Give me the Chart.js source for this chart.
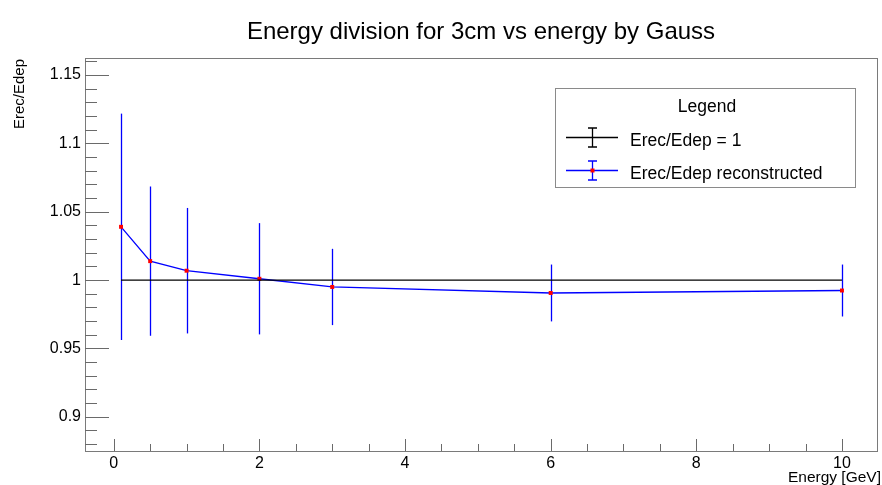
<!DOCTYPE html>
<html>
<head>
<meta charset="utf-8">
<script src="https://cdn.jsdelivr.net/npm/chart.js@4/dist/chart.umd.min.js"></script>
<style>
  html, body { margin: 0; padding: 0; background: #ffffff; }
  #wrap { width: 882px; height: 485px; }
</style>
</head>
<body>
<div id="wrap"><canvas id="c" width="882" height="485"></canvas></div>
<script>
// Beam energies (GeV)
const energy = [0.1, 0.5, 1, 2, 3, 6, 10];
// Reconstructed Erec/Edep with Gaussian fit and its uncertainty
const ratioReco = [1.039, 1.0139, 1.0069, 1.001, 0.995, 0.9906, 0.9924];
const ratioRecoErr = [0.0828, 0.0546, 0.0459, 0.0407, 0.0279, 0.0208, 0.019];
// Reference line Erec/Edep = 1
const ratioRef = [1, 1, 1, 1, 1, 1, 1];
const ratioRefErr = [0, 0, 0, 0, 0, 0, 0];

const titleText = 'Energy division for 3cm vs energy by Gauss';
const xTitle = 'Energy [GeV]';
const yTitle = 'Erec/Edep';
const legendHeader = 'Legend';
const legendLabels = ['Erec/Edep = 1', 'Erec/Edep reconstructed'];

const FONT = '"Liberation Sans", Arial, Helvetica, sans-serif';

function toPoints(xs, ys, es) {
  return xs.map((x, i) => ({ x: x, y: ys[i], err: es[i] }));
}

// Vertical error bars drawn through the chart scales
const errorBars = {
  id: 'errorBars',
  beforeDatasetsDraw(chart) {
    const ctx = chart.ctx;
    const xs = chart.scales.x, ys = chart.scales.y;
    chart.data.datasets.forEach((ds) => {
      ctx.save();
      ctx.strokeStyle = ds.borderColor;
      ctx.lineWidth = 1.3;
      ds.data.forEach((p) => {
        if (!p.err) return;
        const px = Math.round(xs.getPixelForValue(p.x)) + 0.5;
        ctx.beginPath();
        ctx.moveTo(px, ys.getPixelForValue(p.y - p.err));
        ctx.lineTo(px, ys.getPixelForValue(p.y + p.err));
        ctx.stroke();
      });
      ctx.restore();
    });
  }
};

// Frame, inward tick marks, titles and legend box
const decorations = {
  id: 'decorations',
  afterDraw(chart) {
    const ctx = chart.ctx;
    const a = chart.chartArea;
    const xs = chart.scales.x, ys = chart.scales.y;
    ctx.save();

    // frame
    ctx.strokeStyle = '#7a7a7a';
    ctx.lineWidth = 1;
    ctx.strokeRect(Math.round(a.left) + 0.5, Math.round(a.top) + 0.5,
                   Math.round(a.right - a.left) - 1, Math.round(a.bottom - a.top));

    // y ticks (major + 4 minor per interval)
    const yMaj = ys.ticks.map(t => t.value);
    const yStep = yMaj[1] - yMaj[0];
    const ySub = yStep / 5;
    ctx.strokeStyle = '#6a6a6a';
    for (let v = yMaj[0] - 5 * ySub; v <= ys.max + 1e-9; v += ySub) {
      if (v < ys.min - 1e-9) continue;
      const k = Math.round((v - yMaj[0]) / ySub);
      const major = ((k % 5) + 5) % 5 === 0;
      const py = Math.round(ys.getPixelForValue(v)) + 0.5;
      ctx.beginPath();
      ctx.moveTo(a.left, py);
      ctx.lineTo(a.left + (major ? 24 : 12), py);
      ctx.stroke();
    }

    // x ticks (major + 3 minor per interval)
    const xMaj = xs.ticks.map(t => t.value);
    const xStep = xMaj[1] - xMaj[0];
    const xSub = xStep / 4;
    for (let v = xMaj[0] - 4 * xSub; v <= xs.max + 1e-9; v += xSub) {
      if (v < xs.min - 1e-9) continue;
      const k = Math.round((v - xMaj[0]) / xSub);
      const major = ((k % 4) + 4) % 4 === 0;
      const px = Math.round(xs.getPixelForValue(v)) + 0.5;
      ctx.beginPath();
      ctx.moveTo(px, a.bottom);
      ctx.lineTo(px, a.bottom - (major ? 12 : 7));
      ctx.stroke();
    }

    // main title
    ctx.fillStyle = '#000000';
    ctx.font = '24px ' + FONT;
    ctx.textAlign = 'center';
    ctx.textBaseline = 'alphabetic';
    ctx.fillText(titleText, 481, 39);

    // x axis title
    ctx.font = '15.5px ' + FONT;
    ctx.textAlign = 'right';
    ctx.fillText(xTitle, 881, 482);

    // y axis title (rotated)
    ctx.save();
    ctx.translate(24, 59);
    ctx.rotate(-Math.PI / 2);
    ctx.font = '15px ' + FONT;
    ctx.textAlign = 'right';
    ctx.fillText(yTitle, 0, 0);
    ctx.restore();

    // legend box
    const L = { left: 555, top: 88, right: 855, bottom: 187 };
    ctx.fillStyle = '#ffffff';
    ctx.fillRect(L.left, L.top, L.right - L.left, L.bottom - L.top);
    ctx.strokeStyle = '#8a8a8a';
    ctx.strokeRect(L.left + 0.5, L.top + 0.5, L.right - L.left, L.bottom - L.top);

    ctx.fillStyle = '#000000';
    ctx.font = '17.5px ' + FONT;
    ctx.textAlign = 'center';
    ctx.fillText(legendHeader, 707, 112);

    const rows = [137.5, 170.5];
    const sx0 = 566, sx1 = 618, sxc = 592.5;
    chart.data.datasets.forEach((ds, i) => {
      const yy = rows[i];
      ctx.strokeStyle = ds.borderColor;
      ctx.lineWidth = 1.3;
      ctx.beginPath();
      ctx.moveTo(sx0, yy); ctx.lineTo(sx1, yy);
      ctx.moveTo(sxc, yy - 9.5); ctx.lineTo(sxc, yy + 9.5);
      ctx.moveTo(sxc - 4.5, yy - 9.5); ctx.lineTo(sxc + 4.5, yy - 9.5);
      ctx.moveTo(sxc - 4.5, yy + 9.5); ctx.lineTo(sxc + 4.5, yy + 9.5);
      ctx.stroke();
      if (ds.pointRadius > 0) {
        ctx.fillStyle = ds.pointBackgroundColor;
        ctx.fillRect(sxc - 2, yy - 2, 4, 4);
      }
      ctx.fillStyle = '#000000';
      ctx.font = '17.5px ' + FONT;
      ctx.textAlign = 'left';
      ctx.fillText(legendLabels[i], 630, yy + 8);
    });

    ctx.restore();
  }
};

new Chart(document.getElementById('c'), {
  type: 'scatter',
  data: {
    datasets: [
      {
        label: legendLabels[0],
        data: toPoints(energy, ratioRef, ratioRefErr),
        showLine: true,
        borderColor: '#000000',
        borderWidth: 1.3,
        pointRadius: 0,
        pointHoverRadius: 0,
        tension: 0
      },
      {
        label: legendLabels[1],
        data: toPoints(energy, ratioReco, ratioRecoErr),
        showLine: true,
        borderColor: '#0000ff',
        borderWidth: 1.3,
        pointStyle: 'rect',
        pointRadius: 2.8,
        pointBorderWidth: 0,
        pointBackgroundColor: '#ff0000',
        pointBorderColor: '#ff0000',
        tension: 0
      }
    ]
  },
  options: {
    responsive: false,
    animation: false,
    devicePixelRatio: 1,
    layout: { padding: { top: 58, left: 0, right: 2, bottom: 0 } },
    plugins: {
      legend: { display: false },
      title: { display: false },
      tooltip: { enabled: false }
    },
    scales: {
      x: {
        type: 'linear',
        min: -0.395,
        max: 10.495,
        grid: { display: false, drawTicks: false },
        border: { display: false },
        ticks: {
          stepSize: 2,
          includeBounds: false,
          padding: 3,
          color: '#000000',
          font: { family: FONT, size: 16 },
          maxRotation: 0
        },
        afterFit(scale) { scale.height = 34; }
      },
      y: {
        type: 'linear',
        min: 0.875,
        max: 1.1625,
        grid: { display: false, drawTicks: false },
        border: { display: false },
        ticks: {
          stepSize: 0.05,
          includeBounds: false,
          padding: 4,
          color: '#000000',
          font: { family: FONT, size: 16 },
          callback: (v) => String(+v.toFixed(2))
        },
        afterFit(scale) { scale.width = 85; }
      }
    }
  },
  plugins: [errorBars, decorations]
});
</script>
</body>
</html>
